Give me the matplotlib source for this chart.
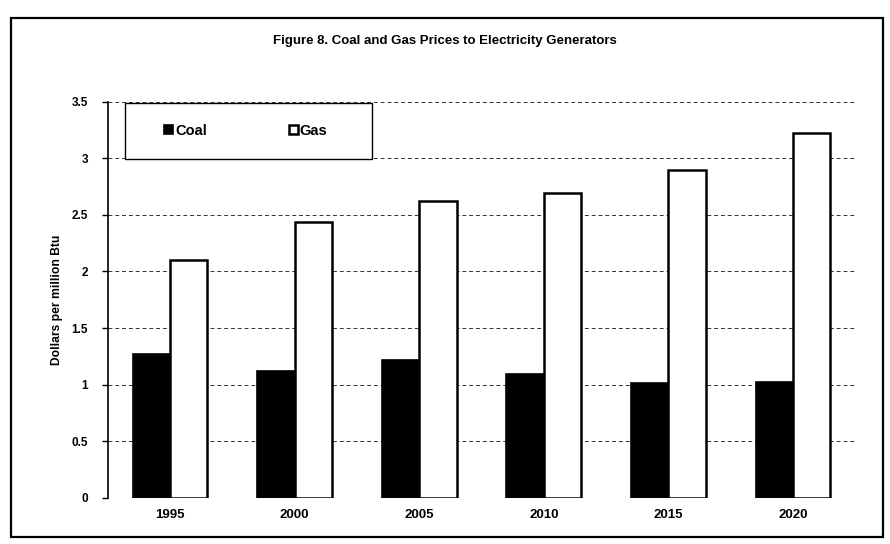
import matplotlib.pyplot as plt
import matplotlib.patches as mpatches
import numpy as np

plt.rcParams['font.family'] = ['Liberation Sans', 'DejaVu Sans']

years = ['1995', '2000', '2005', '2010', '2015', '2020']
coal = [1.27, 1.12, 1.22, 1.09, 1.01, 1.02]
gas = [2.10, 2.44, 2.62, 2.69, 2.90, 3.22]
yticks = [0, 0.5, 1, 1.5, 2, 2.5, 3, 3.5]

fig = plt.figure(figsize=(8.9, 5.44), dpi=100)
fig.patches.append(mpatches.Rectangle((0.012, 0.012), 0.980, 0.955, transform=fig.transFigure,
                                      fill=False, edgecolor='black', linewidth=1.6))

ax = fig.add_axes([0.121, 0.085, 0.840, 0.728])
x = np.arange(len(years))
w = 0.30
ax.bar(x - w / 2, coal, w, color='black', edgecolor='black', linewidth=1.2, label='Coal', zorder=3)
ax.bar(x + w / 2, gas, w, color='white', edgecolor='black', linewidth=1.8, label='Gas', zorder=3)

ax.set_xlim(-0.5, 5.5)
ax.set_ylim(0, 3.5)
ax.set_yticks(yticks)
ax.set_yticklabels(['0', '0.5', '1', '1.5', '2', '2.5', '3', '3.5'], fontsize=8.5, fontweight='bold')
ax.set_xticks(x)
ax.set_xticklabels(years, fontsize=9.5, fontweight='bold')
ax.tick_params(axis='x', length=0, pad=8)
ax.tick_params(axis='y', length=4, width=1, pad=10)
ax.yaxis.grid(True, linestyle=(0, (4, 3)), color='#333333', linewidth=0.7, zorder=0)

for s in ['top', 'right', 'bottom']:
    ax.spines[s].set_visible(False)
ax.spines['left'].set_linewidth(1.2)
ax.axhline(0, color='#333333', linewidth=0.7, linestyle=(0, (4, 3)), zorder=1)

ax.set_ylabel('Dollars per million Btu', fontsize=8.7, fontweight='bold', labelpad=6)
fig.text(0.5, 0.925, 'Figure 8. Coal and Gas Prices to Electricity Generators',
         ha='center', va='center', fontsize=9.5, fontweight='bold')

# legend box drawn by hand, legend itself without frame
box = mpatches.Rectangle((0.023, 0.998), 0.331, -0.143, transform=ax.transAxes,
                         facecolor='white', edgecolor='black', linewidth=1.0, zorder=4)
ax.add_patch(box)
leg = ax.legend(loc='center', bbox_to_anchor=(0.185, 0.927), ncol=2, frameon=False,
                prop={'weight': 'bold', 'size': 10.5},
                handlelength=0.6, handleheight=0.6, handletextpad=0.15, columnspacing=5.6)
leg.set_zorder(5)

plt.savefig('out.png', dpi=100)
